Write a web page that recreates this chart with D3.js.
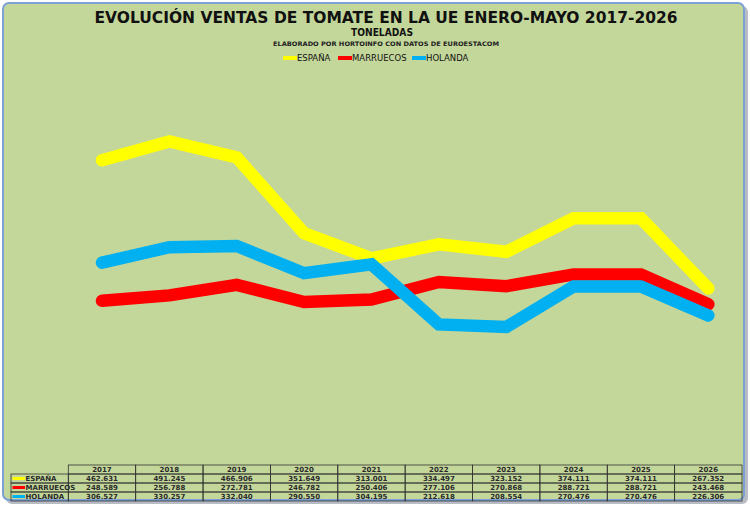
<!DOCTYPE html>
<html>
<head>
<meta charset="utf-8">
<script src="https://cdn.jsdelivr.net/npm/d3@7"></script>
<style>
  body { margin: 0; background: #fff; }
  svg { display: block; font-family: "DejaVu Sans", Verdana, sans-serif; }
</style>
</head>
<body>
<div id="chart"></div>
<script>
// data (thousands of tonnes, Spanish notation)
const years = ["2017", "2018", "2019", "2020", "2021", "2022", "2023", "2024", "2025", "2026"];
const espana = [462.631, 491.245, 466.906, 351.649, 313.001, 334.497, 323.152, 374.111, 374.111, 267.352];
const marruecos = [248.589, 256.788, 272.781, 246.782, 250.406, 277.106, 270.868, 288.721, 288.721, 243.468];
const holanda = [306.527, 330.257, 332.040, 290.550, 304.195, 212.618, 208.554, 270.476, 270.476, 226.306];
const seriesNames = ["ESPAÑA", "MARRUECOS", "HOLANDA"];
const seriesColors = ["#FFFF00", "#FF0000", "#00B0F0"];

const series = [espana, marruecos, holanda].map((vals, i) => ({
    name: seriesNames[i], color: seriesColors[i], values: vals
}));

const width = 750, height = 506;

const svg = d3.select("#chart").append("svg")
    .attr("width", width)
    .attr("height", height);

// frame with shadow
svg.append("rect")
    .attr("x", 6).attr("y", 6)
    .attr("width", 742).attr("height", 498)
    .attr("rx", 6)
    .attr("fill", "#b8bcc4");
svg.append("rect")
    .attr("x", 3).attr("y", 3)
    .attr("width", 741).attr("height", 497)
    .attr("rx", 6)
    .attr("fill", "#C4D79B")
    .attr("stroke", "#7DA0D4")
    .attr("stroke-width", 2);

// titles
svg.append("text")
    .attr("x", 386).attr("y", 23)
    .attr("text-anchor", "middle")
    .attr("font-size", 15).attr("font-weight", "bold")
    .attr("fill", "#111")
    .attr("textLength", 583).attr("lengthAdjust", "spacingAndGlyphs")
    .text("EVOLUCIÓN VENTAS DE TOMATE EN LA UE ENERO-MAYO 2017-2026");
svg.append("text")
    .attr("x", 382).attr("y", 35.5)
    .attr("text-anchor", "middle")
    .attr("font-size", 10).attr("font-weight", "bold")
    .attr("fill", "#111")
    .attr("textLength", 62).attr("lengthAdjust", "spacingAndGlyphs")
    .text("TONELADAS");
svg.append("text")
    .attr("x", 386).attr("y", 45.5)
    .attr("text-anchor", "middle")
    .attr("font-size", 6.2).attr("font-weight", "bold")
    .attr("fill", "#222")
    .attr("textLength", 226).attr("lengthAdjust", "spacingAndGlyphs")
    .text("ELABORADO POR HORTOINFO CON DATOS DE EUROESTACOM");

// legend
const legendX = [283, 338, 412];
const legend = svg.append("g").selectAll("g")
    .data(series)
    .join("g")
    .attr("transform", (d, i) => `translate(${legendX[i]},58)`);
legend.append("line")
    .attr("x1", 0).attr("x2", 14)
    .attr("stroke", d => d.color)
    .attr("stroke-width", 4);
legend.append("text")
    .attr("x", 14).attr("y", 3)
    .attr("font-size", 8.5)
    .attr("fill", "#111")
    .text(d => d.name);

// scales
const x = d3.scaleBand()
    .domain(years)
    .range([68.3, 742]);
const y = d3.scaleLinear()
    .domain([0, 600])
    .range([464, 70]);

const line = d3.line()
    .x((d, i) => x(years[i]) + x.bandwidth() / 2)
    .y(d => y(d));

svg.append("g").selectAll("path")
    .data(series)
    .join("path")
    .attr("d", d => line(d.values))
    .attr("fill", "none")
    .attr("stroke", d => d.color)
    .attr("stroke-width", 12.5)
    .attr("stroke-linecap", "round")
    .attr("stroke-linejoin", "miter");

// data table
const rowTop = 465, rowH = 9, labelLeft = 11;
const table = svg.append("g")
    .attr("font-size", 7)
    .attr("font-weight", "bold")
    .attr("fill", "#2a2a2a");

// header cells
table.selectAll("rect.head")
    .data(years)
    .join("rect")
    .attr("class", "head")
    .attr("x", d => x(d)).attr("y", rowTop)
    .attr("width", x.bandwidth()).attr("height", rowH)
    .attr("fill", "none").attr("stroke", "#333").attr("stroke-width", 0.8);
table.selectAll("text.head")
    .data(years)
    .join("text")
    .attr("class", "head")
    .attr("x", d => x(d) + x.bandwidth() / 2)
    .attr("y", rowTop + rowH - 2)
    .attr("text-anchor", "middle")
    .text(d => d);

series.forEach((s, r) => {
    const ty = rowTop + rowH * (r + 1);
    table.append("rect")
        .attr("x", labelLeft).attr("y", ty)
        .attr("width", x(years[0]) - labelLeft).attr("height", rowH)
        .attr("fill", "none").attr("stroke", "#333").attr("stroke-width", 0.8);
    table.append("line")
        .attr("x1", labelLeft + 1.5).attr("x2", labelLeft + 14)
        .attr("y1", ty + rowH / 2).attr("y2", ty + rowH / 2)
        .attr("stroke", s.color).attr("stroke-width", 3);
    table.append("text")
        .attr("x", labelLeft + 14.5).attr("y", ty + rowH - 2)
        .text(s.name);
    table.selectAll(null)
        .data(s.values)
        .join("rect")
        .attr("x", (d, i) => x(years[i])).attr("y", ty)
        .attr("width", x.bandwidth()).attr("height", rowH)
        .attr("fill", "none").attr("stroke", "#333").attr("stroke-width", 0.8);
    table.selectAll(null)
        .data(s.values)
        .join("text")
        .attr("x", (d, i) => x(years[i]) + x.bandwidth() / 2)
        .attr("y", ty + rowH - 2)
        .attr("text-anchor", "middle")
        .text(d => d.toFixed(3));
});
</script>
</body>
</html>
